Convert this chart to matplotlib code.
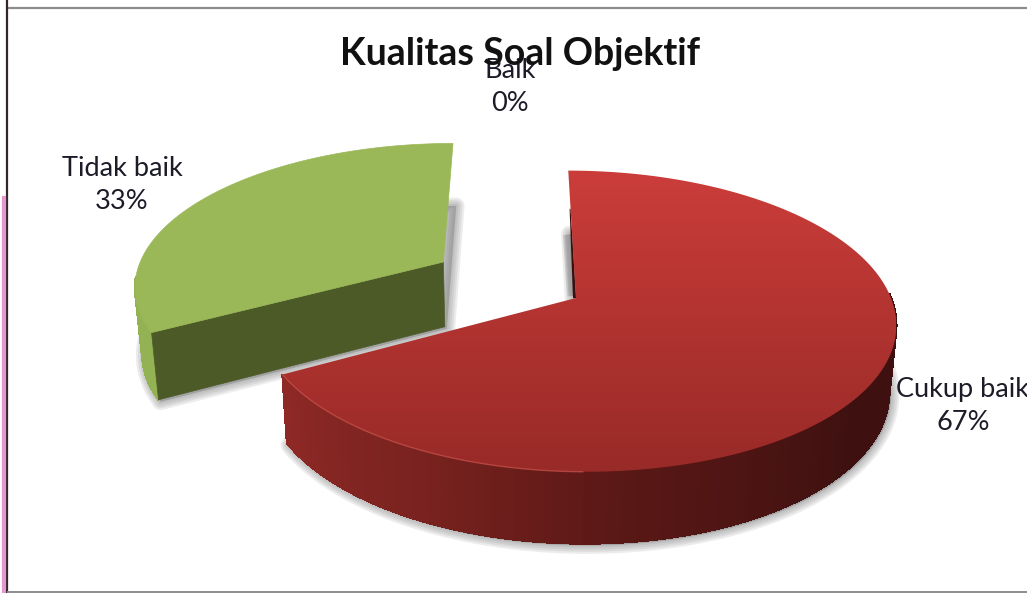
import numpy as np
import matplotlib
matplotlib.use("Agg")
import matplotlib.pyplot as plt
from matplotlib.patches import Polygon

labels = ["Cukup baik", "Tidak baik", "Baik"]
values = [67, 33, 0]
title = "Kualitas Soal Objektif"

# camera of the fake 3d pie, in image pixels
cx, cy = 576, 298
rx, ry = 315, 147
persp = 0.154
vanish_x = 518
depth = 66
explode = [0, 0.5, 0]

fig = plt.figure(figsize=(10.27, 5.93), dpi=100)
ax = fig.add_axes([0, 0, 1, 1])
ax.set_xlim(0, 1027)
ax.set_ylim(593, 0)
ax.axis("off")


def project(X, Y, low=False):
    w = 1 + persp * Y
    x = vanish_x + (X - vanish_x) / w
    y = cy - ry * Y / w
    if low:
        x = x + (vanish_x - x) * 0.019
        y = y + depth / np.sqrt(w)
    return x, y


def wedge(t0, t1, off, low=False):
    # outline of a slice, angles clockwise from top
    t = np.radians(np.linspace(t0, t1, 200))
    mid = np.radians((t0 + t1) / 2)
    ox, oy = off * np.sin(mid), off * np.cos(mid)
    X = cx + rx * (ox + np.sin(t))
    Y = oy + np.cos(t)
    xa, ya = project(X, Y, low)
    x0, y0 = project(cx + rx * ox, oy, low)
    return np.column_stack([np.r_[x0, xa], np.r_[y0, ya]])


def shadow(pts):
    for lw in [12, 9, 6, 3]:
        ax.add_patch(Polygon(pts + [2, 2], closed=True, fc="#808080", ec="#808080",
                             lw=lw, alpha=0.15, zorder=1, joinstyle="round"))


def side_strips(top, bot, cols, z):
    for i in range(len(top) - 1):
        p = [top[i], top[i + 1], bot[i + 1], bot[i]]
        ax.add_patch(Polygon(p, closed=True, fc=cols[i], ec=cols[i], lw=1.0,
                             antialiased=False, zorder=z))


total = sum(values)
ends = np.cumsum(values) / total * 360
starts = np.r_[0, ends[:-1]]

# red slice
t0, t1 = starts[0], ends[0]
top_r = wedge(t0, t1, explode[0])
bot_r = wedge(t0, t1, explode[0], low=True)
shadow(bot_r)

# green slice
t0g, t1g = starts[1], ends[1]
top_g = wedge(t0g, t1g, explode[1])
bot_g = wedge(t0g, t1g, explode[1], low=True)
shadow(bot_g)

# green: outer wall then the dark cut face
side_strips(top_g[1:40], bot_g[1:40], ["#93b254"] * 39, 3)
ax.add_patch(Polygon([top_g[0], top_g[1], bot_g[1], bot_g[0]], closed=True,
                     fc="#4b5a27", ec="#4b5a27", lw=0.5, zorder=4))
ax.add_patch(Polygon(top_g, closed=True, fc="#9ab858", ec="#9ab858", lw=0.5, zorder=5))

# red: shadow and thin dark sliver along the cut at the top
apex, far = top_r[0], top_r[1]
low_end = far + (apex - far) * 0.44
for lw in [7, 5, 3]:
    ax.plot([low_end[0] - 4, apex[0] - 4], [low_end[1] + 8, apex[1] - 2],
            color="#808080", lw=lw, alpha=0.2, zorder=2, solid_capstyle="butt")
sliver = far + (apex - far) * 0.3
ax.add_patch(Polygon([sliver, apex, apex + [-3, 0], sliver + [-1, 0]], closed=True,
                     fc="#3c0f0e", ec="none", zorder=4))

# red outer wall, only the part facing us
ang = np.linspace(t0, t1, 200)
anchor_t = [90, 130, 175, 205, 241.2]
anchor_c = np.array([[0x3e, 0x11, 0x10], [0x3e, 0x11, 0x10], [0x5a, 0x18, 0x16],
                     [0x78, 0x22, 0x1f], [0x8f, 0x29, 0x26]]) / 255
cols = [tuple(np.interp(a, anchor_t, anchor_c[:, k]) for k in range(3)) for a in ang]
front = ang > 88
side_strips(top_r[1:][front], bot_r[1:][front], [c for c, f in zip(cols, front) if f], 3)

# red top with vertical gradient, clipped to the slice
grad = np.linspace(0, 1, 256)[:, None]
c_top = np.array([0xcb, 0x3d, 0x3a]) / 255
c_bot = np.array([0x98, 0x2a, 0x27]) / 255
img = (c_top + (c_bot - c_top) * grad[..., None]).reshape(256, 1, 3)
im = ax.imshow(img, extent=(top_r[:, 0].min(), top_r[:, 0].max(), top_r[:, 1].max(), top_r[:, 1].min()),
               aspect="auto", zorder=5)
im.set_clip_path(Polygon(top_r, closed=True, transform=ax.transData))
ax.set_xlim(0, 1027)
ax.set_ylim(593, 0)
ax.plot(top_r[150:, 0], top_r[150:, 1], color="#c9534c", lw=1.0, alpha=0.7, zorder=6)

# sheet border from the screenshot
ax.plot([8, 1027], [8, 8], color="#8c8c8c", lw=1.6, zorder=7)
ax.plot([7, 7], [0, 593], color="#33262d", lw=1.6, zorder=7)
ax.plot([4, 4], [198, 593], color="#e597cf", lw=3, zorder=7)
ax.plot([8, 1027], [591.5, 591.5], color="#8c8c8c", lw=1.4, zorder=7)

# text
plt.rcParams["font.family"] = ["Lato", "DejaVu Sans"]
label_pos = [(963, 406), (122, 185), (510, 87)]
for name, v, (px, py) in zip(labels, values, label_pos):
    ax.text(px, py, f"{name}\n{round(v / total * 100)}%", ha="center", va="center", fontsize=19.5,
            color="#1c1c28", linespacing=1.42, zorder=9, clip_on=True)
ax.text(520, 54, title, ha="center", va="center", fontsize=27, fontweight="bold",
        color="#111111", zorder=10)

fig.savefig("out.png", dpi=100)
